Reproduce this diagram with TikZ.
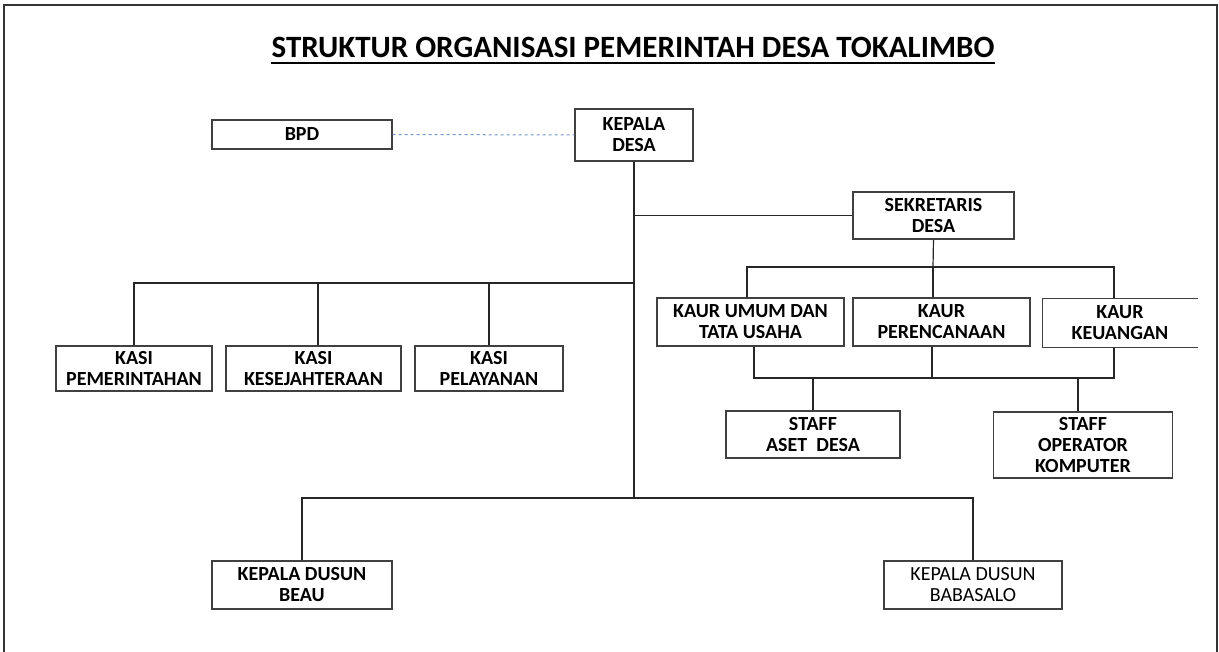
\documentclass[tikz,border=0pt]{standalone}
\usepackage{fontspec}
\setmainfont{Carlito}
\definecolor{linkblue}{RGB}{110,150,200}
\begin{document}
\begin{tikzpicture}[x=1pt,y=-1pt,
  unit/.style={draw=black!75,line width=1.3pt,inner sep=0pt,align=center,
    font=\fontsize{20}{21}\selectfont\bfseries},
  unitopen/.style={unit,draw=none},
  conn/.style={line width=1.2pt,black!85}]
\useasboundingbox (0,0) rectangle (1219,652);
\draw[line width=2pt,black!80] (4,652) -- (4,5) -- (1217,5) -- (1217,652);

\node[font=\fontsize{31}{34}\selectfont\bfseries,inner sep=0pt,anchor=base] (title) at (633,58)
  {STRUKTUR ORGANISASI PEMERINTAH DESA TOKALIMBO};
\draw[line width=1.8pt] ([yshift=-5pt]title.base west) -- ([yshift=-5pt]title.base east);

\node[unit,minimum width=180,minimum height=29] (bpd) at (302,134.5) {BPD};
\node[unit,minimum width=118,minimum height=52] (kades) at (634,135) {KEPALA\\DESA};
\node[unit,minimum width=161,minimum height=47] (sekdes) at (933.5,215.5) {SEKRETARIS\\DESA};

\node[unit,minimum width=187,minimum height=48] (kaur1) at (750.5,322) {KAUR UMUM DAN\\TATA USAHA};
\node[unit,minimum width=177,minimum height=48] (kaur2) at (941.5,322) {KAUR\\PERENCANAAN};
\node[unitopen,minimum width=154,minimum height=48] (kaur3) at (1120,323) {KAUR\\KEUANGAN};
\draw[black!75,line width=1.3pt] (kaur3.north east) -- (kaur3.north west) -- (kaur3.south west) -- (kaur3.south east);

\node[unit,minimum width=174,minimum height=47] (staff1) at (813,434.5) {STAFF\\ASET~~DESA};
\node[unit,minimum width=179,minimum height=66] (staff2) at (1083,445) {STAFF\\OPERATOR\\KOMPUTER};

\node[unit,minimum width=156,minimum height=45] (kasi1) at (134,368.5) {KASI\\PEMERINTAHAN};
\node[unit,minimum width=175,minimum height=45] (kasi2) at (313.5,368.5) {KASI\\KESEJAHTERAAN};
\node[unit,minimum width=148,minimum height=45] (kasi3) at (489,368.5) {KASI\\PELAYANAN};

\node[unit,minimum width=180,minimum height=48] (dusun1) at (302,585) {KEPALA DUSUN\\BEAU};
\node[unit,minimum width=178,minimum height=48,font=\fontsize{20}{21}\selectfont] (dusun2) at (973,585)
  {KEPALA DUSUN\\BABASALO};

\coordinate (kasibus) at (634,283);
\coordinate (sekbus) at (933,267);
\coordinate (staffbus) at (933,378);
\coordinate (dusunbus) at (634,498);

\draw[dashed,linkblue,line width=1pt] (bpd.east) -- (kades.west);
\draw[conn] (kades.south) -- (dusunbus);
\draw[conn] (sekdes.west) -- (sekdes.west -| kades.south);

\draw[conn] (kasi1.north) |- (kasibus);
\draw[conn] ([xshift=4.5pt]kasi2.north) -- ([xshift=4.5pt]kasi2.north |- kasibus);
\draw[conn] (kasi3.north) -- (kasi3.north |- kasibus);

\draw[conn] (sekdes.south) -- (sekbus);
\draw[conn] ([xshift=-3.5pt]kaur1.north) |- (sekbus) -| ([xshift=-6pt]kaur3.north);
\draw[conn] ([xshift=-8.5pt]kaur2.north) -- ([xshift=-8.5pt]kaur2.north |- sekbus);

\draw[conn] ([xshift=3.5pt]kaur1.south) |- (staffbus) -| ([xshift=-6pt]kaur3.south);
\draw[conn] ([xshift=-9.5pt]kaur2.south) -- ([xshift=-9.5pt]kaur2.south |- staffbus);
\draw[conn] (staff1.north) -- (staff1.north |- staffbus);
\draw[conn] ([xshift=-5pt]staff2.north) -- ([xshift=-5pt]staff2.north |- staffbus);

\draw[conn] (dusun1.north) |- (dusunbus) -| (dusun2.north);
\end{tikzpicture}
\end{document}
